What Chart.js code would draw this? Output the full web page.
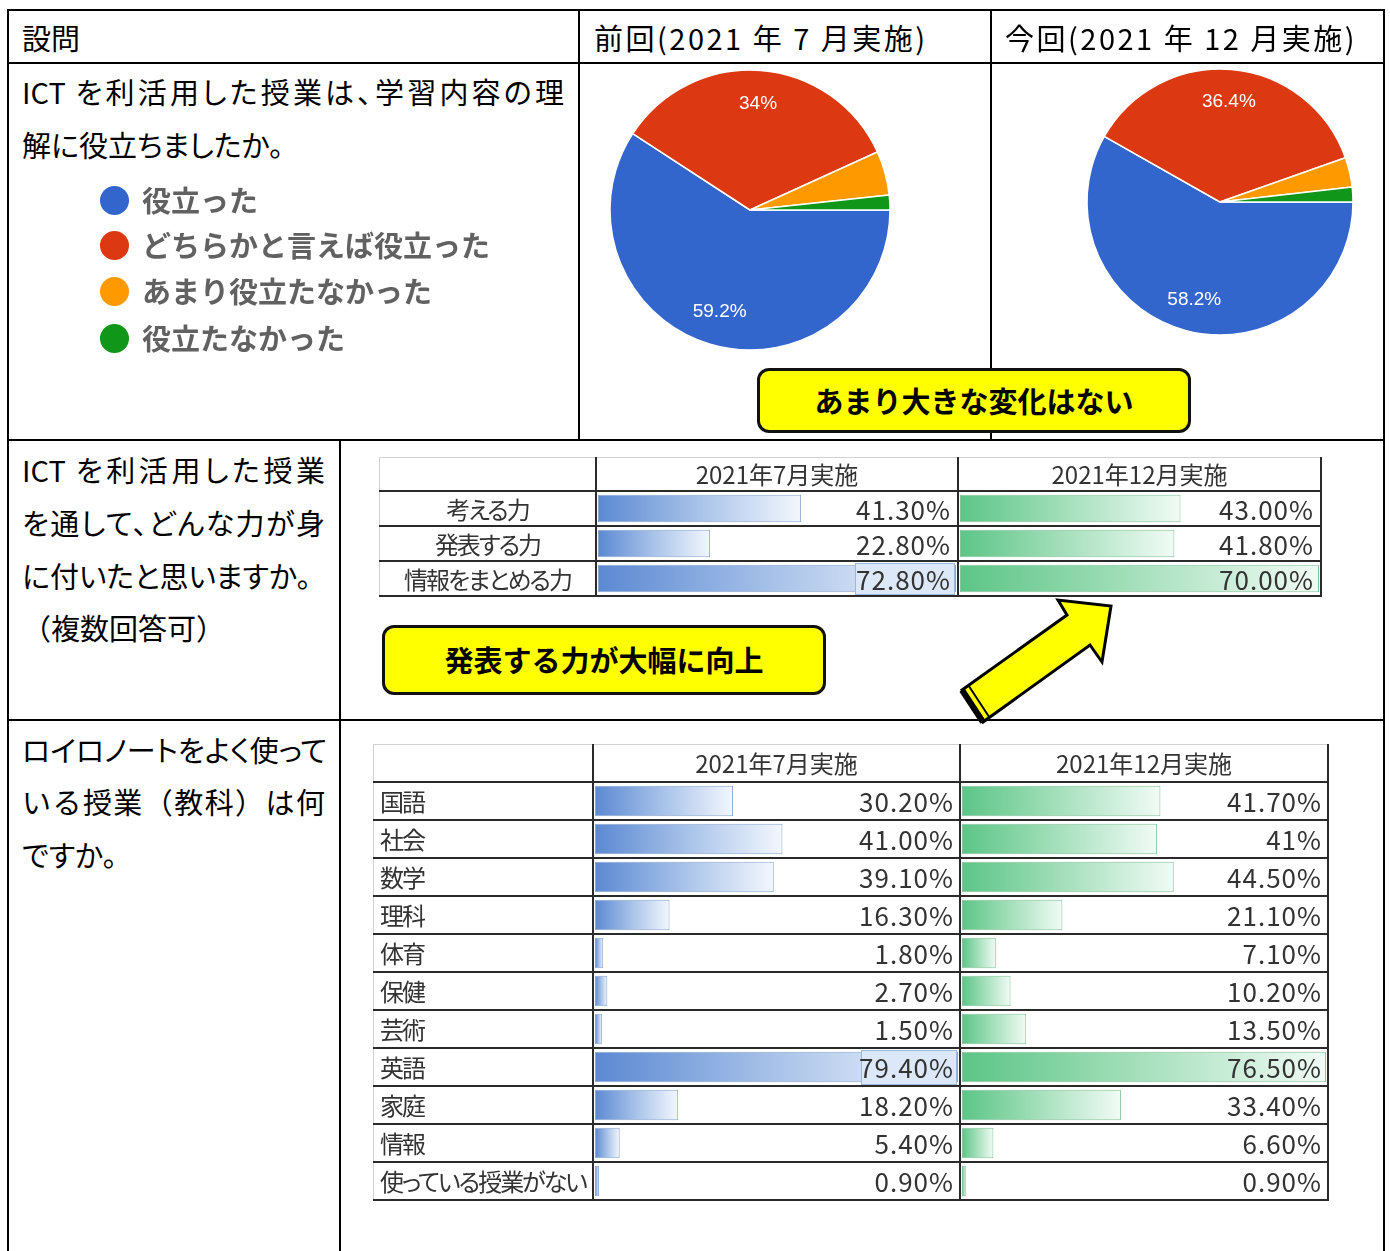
<!DOCTYPE html>
<html>
<head>
<meta charset="utf-8">
<script src="https://cdn.jsdelivr.net/npm/chart.js@4"></script>
<style>
  body { margin: 0; background: #fff; }
  #page { position: relative; width: 1390px; height: 1251px; overflow: hidden; font-family: "Noto Sans CJK JP", sans-serif; }
  #page > * { position: absolute; }
  .ln { z-index: 2; }
  .t { font-feature-settings: "palt"; font-size: 29px; line-height: 40px; white-space: nowrap; color: #000; z-index: 3; }
  .j { text-align: justify; text-align-last: justify; }
  .fw { font-feature-settings: normal; }
  .hd { letter-spacing: 2.5px; }
  .tc { font-size: 24px; color: #333; white-space: nowrap; z-index: 3; font-feature-settings: "palt"; }
  .lab { letter-spacing: -2px; }
  .val { font-size: 26px; letter-spacing: 1px; }
  .sel { background: #dce8f7; border: 1px solid #9db8de; z-index: 2; }
  .lg { font-size: 29px; line-height: 40px; color: #616161; font-weight: bold; white-space: nowrap; filter: blur(0.6px); }
  .dot { width: 29px; height: 29px; border-radius: 50%; filter: blur(0.5px); }
  .box { box-sizing: border-box; border: 3px solid #111; border-radius: 12px; background: #ffff00;
         font-size: 29px; font-weight: bold; text-align: center; z-index: 5; white-space: nowrap; }
  svg { z-index: 6; }
</style>
</head>
<body>
<div id="page"></div>
<script>
// ---- data ----
const pieLabels = ['役立った', 'どちらかと言えば役立った', 'あまり役立たなかった', '役立たなかった'];
const pieColors = ['#3366cc', '#dc3912', '#ff9900', '#109618'];
const pieJuly = [59.2, 34, 5.1, 1.7];
const pieDec = [58.2, 36.4, 3.6, 1.8];

const julyName = '2021年7月実施';
const decName = '2021年12月実施';

const skillLabels = ['考える力', '発表する力', '情報をまとめる力'];
const skillJuly = [41.3, 22.8, 72.8];
const skillDec = [43.0, 41.8, 70.0];

const subjectLabels = ['国語', '社会', '数学', '理科', '体育', '保健', '芸術', '英語', '家庭', '情報', '使っている授業がない'];
const subjectJuly = [30.2, 41.0, 39.1, 16.3, 1.8, 2.7, 1.5, 79.4, 18.2, 5.4, 0.9];
const subjectDec = [41.7, 41, 44.5, 21.1, 7.1, 10.2, 13.5, 76.5, 33.4, 6.6, 0.9];
const subjectDecText = ['41.70%', '41%', '44.50%', '21.10%', '7.10%', '10.20%', '13.50%', '76.50%', '33.40%', '6.60%', '0.90%'];

const blueStops = ['#5b89d2', '#a9c3e9', '#f3f7fd'];
const greenStops = ['#5cc586', '#a7e0bd', '#f1fbf5'];

// ---- helpers ----
const page = document.getElementById('page');
const px = v => v + 'px';
function el(tag, cls, style, text) {
  const d = document.createElement(tag);
  if (cls) d.className = cls;
  Object.assign(d.style, style);
  if (text != null) d.textContent = text;
  page.appendChild(d);
  return d;
}
function line(x, y, w, h, c) {
  return el('div', 'ln', { left: px(x), top: px(y), width: px(w), height: px(h), background: c || '#000' });
}
function text(str, x, cy, w, cls) {
  return el('div', 't' + (cls ? ' ' + cls : ''), { left: px(x), top: px(cy - 21), width: w ? px(w) : 'auto' }, str);
}
const fmt = v => v.toFixed(2) + '%';

// ---- outer table ----
line(8, 9, 1377, 2);
line(8, 62, 1377, 2);
line(8, 439, 1377, 2);
line(8, 719, 1377, 2);
line(7, 9, 2, 1242);
line(1383, 9, 2, 1242);
line(578, 9, 2, 431);
line(990, 9, 2, 431);
line(339, 439, 2, 812);

text('設問', 22, 38);
text('前回(2021 年 7 月実施)', 594, 38, 0, 'hd');
text('今回(2021 年 12 月実施)', 1005, 38, 0, 'hd');

text('ICT  を利活用した授業は、学習内容の理', 22, 92, 542, 'j');
text('解に役立ちましたか。', 22, 145);

text('ICT  を利活用した授業', 22, 470, 303, 'j');
text('を通して、どんな力が身', 22, 523, 303, 'j');
text('に付いたと思いますか。', 22, 576);
text('（複数回答可）', 22, 628, 0, 'fw');

text('ロイロノートをよく使って', 22, 750, 303, 'j');
text('いる授業（教科）は何', 22, 802, 303, 'j fw');
text('ですか。', 22, 855);

// ---- legend ----
const legendY = [200, 245, 291, 338];
pieLabels.forEach((lab, i) => {
  el('div', 'dot', { left: px(100), top: px(legendY[i] - 14.5), background: pieColors[i] });
  el('div', 'lg', { left: px(142), top: px(legendY[i] - 21) }, lab);
});

// ---- pies ----
const pieLabelPlugin = {
  id: 'pieLabels',
  afterDatasetsDraw(chart) {
    const ctx = chart.ctx;
    const meta = chart.getDatasetMeta(0);
    const data = chart.data.datasets[0].data;
    ctx.save();
    ctx.fillStyle = '#fff';
    ctx.font = '19px "Liberation Sans", Arial, sans-serif';
    ctx.textAlign = 'center';
    ctx.textBaseline = 'middle';
    meta.data.forEach((arc, i) => {
      if (data[i] < 10) return;
      const a = (arc.startAngle + arc.endAngle) / 2;
      const r = arc.outerRadius * 0.76;
      ctx.fillText(data[i] + '%', arc.x + Math.cos(a) * r, arc.y + Math.sin(a) * r);
    });
    ctx.restore();
  }
};

function pieChart(x, y, size, radius, values) {
  const cv = el('canvas', null, { left: px(x), top: px(y), zIndex: 1 });
  cv.width = size; cv.height = size;
  return new Chart(cv, {
    type: 'pie',
    data: {
      labels: pieLabels,
      datasets: [{ data: values, backgroundColor: pieColors, borderColor: '#fff', borderWidth: 1.5, hoverOffset: 0 }]
    },
    options: {
      responsive: false,
      animation: false,
      events: [],
      rotation: 90,
      radius: radius,
      layout: { padding: 0 },
      plugins: { legend: { display: false }, tooltip: { enabled: false } }
    },
    plugins: [pieLabelPlugin]
  });
}
pieChart(600, 60, 300, 140, pieJuly);
pieChart(1070, 52, 300, 133, pieDec);

// ---- data bar tables ----
function barFill(stops) {
  return ctx => {
    const chart = ctx.chart;
    const xs = chart.scales.x;
    if (!chart.chartArea || !xs) return stops[0];
    const x0 = xs.getPixelForValue(0);
    const x1 = Math.max(xs.getPixelForValue(ctx.raw), x0 + 2);
    const g = chart.ctx.createLinearGradient(x0, 0, x1, 0);
    g.addColorStop(0, stops[0]);
    g.addColorStop(0.5, stops[1]);
    g.addColorStop(1, stops[2]);
    return g;
  };
}

function barChart(cv, labels, values, stops, border, pct) {
  return new Chart(cv, {
    type: 'bar',
    data: {
      labels: labels,
      datasets: [{
        data: values,
        backgroundColor: barFill(stops),
        borderColor: border,
        borderWidth: 1,
        borderSkipped: false,
        barPercentage: pct,
        categoryPercentage: 1
      }]
    },
    options: {
      indexAxis: 'y',
      responsive: false,
      animation: false,
      events: [],
      layout: { padding: 0 },
      plugins: { legend: { display: false }, tooltip: { enabled: false } },
      scales: {
        x: { display: false, min: 0, max: Math.max(...values) },
        y: { display: false }
      }
    }
  });
}

function dataTable(t) {
  const total = t.cols[0] + t.cols[1] + t.cols[2];
  const n = t.labels.length;
  const bodyTop = t.y + t.headH;
  const bottom = bodyTop + n * t.rowH;
  const xs = [t.x, t.x + t.cols[0], t.x + t.cols[0] + t.cols[1], t.x + total];

  t.series.forEach((s, k) => {
    const cv = el('canvas', null, { left: px(xs[k + 1] + 2), top: px(bodyTop), zIndex: 1 });
    cv.width = xs[k + 2] - xs[k + 1] - 4;
    cv.height = n * t.rowH;
    barChart(cv, t.labels, s.values, s.stops, s.border, t.barPct);
  });

  line(t.x, t.y, total, 1, '#d2d2d2');
  line(t.x, t.y, 1, bottom - t.y, '#d2d2d2');
  for (let i = 0; i <= n; i++) line(t.x, bodyTop + i * t.rowH - 1, total + 1, 2, '#2a2a2a');
  xs.slice(1).forEach(x => line(x - 1, t.y, 2, bottom - t.y + 1, '#2a2a2a'));

  t.series.forEach((s, k) => {
    el('div', 'tc', { left: px(xs[k + 1]), top: px(t.y), width: px(xs[k + 2] - xs[k + 1]),
      height: px(t.headH), lineHeight: px(t.headH), textAlign: 'center' }, s.name);
  });

  t.labels.forEach((lab, i) => {
    const style = { top: px(bodyTop + i * t.rowH), height: px(t.rowH), lineHeight: px(t.rowH) };
    if (t.labelAlign === 'left') {
      Object.assign(style, { left: px(t.x + 7) });
    } else {
      Object.assign(style, { left: px(t.x), width: px(t.cols[0]), textAlign: 'center' });
    }
    el('div', 'tc lab', style, lab);
  });

  t.series.forEach((s, k) => {
    s.values.forEach((v, i) => {
      const right = 1390 - (xs[k + 2] - t.pad);
      const str = s.text ? s.text[i] : fmt(v);
      if (s.sel === i) {
        el('div', 'sel', { right: px(1390 - xs[k + 2] + 3), top: px(bodyTop + i * t.rowH + 2),
          width: px(t.selW), height: px(t.rowH - 5) });
      }
      el('div', 'tc val', { right: px(right - 1), top: px(bodyTop + i * t.rowH), height: px(t.rowH),
        lineHeight: px(t.rowH), textAlign: 'right' }, str);
    });
  });
}

dataTable({
  x: 379, y: 457, cols: [217, 362, 363], headH: 34, rowH: 35, barPct: 0.78, pad: 8, selW: 98,
  labels: skillLabels, labelAlign: 'center',
  series: [
    { name: julyName, values: skillJuly, stops: blueStops, border: '#8aa6d0', sel: 2 },
    { name: decName, values: skillDec, stops: greenStops, border: '#86c49c' }
  ]
});

dataTable({
  x: 373, y: 744, cols: [220, 367, 368], headH: 38, rowH: 38, barPct: 0.8, pad: 7, selW: 94,
  labels: subjectLabels, labelAlign: 'left',
  series: [
    { name: julyName, values: subjectJuly, stops: blueStops, border: '#8aa6d0', sel: 7 },
    { name: decName, values: subjectDec, text: subjectDecText, stops: greenStops, border: '#86c49c' }
  ]
});

// ---- callouts ----
el('div', 'box', { left: px(757), top: px(368), width: px(434), height: px(65), lineHeight: px(58) }, 'あまり大きな変化はない');
el('div', 'box', { left: px(382), top: px(625), width: px(444), height: px(70), lineHeight: px(63) }, '発表する力が大幅に向上');

// ---- arrow ----
const NS = 'http://www.w3.org/2000/svg';
const svg = document.createElementNS(NS, 'svg');
svg.setAttribute('width', 1390);
svg.setAttribute('height', 1251);
svg.style.left = '0px';
svg.style.top = '0px';
svg.innerHTML =
  '<polygon points="962,690 1067,615 1058,600 1111,606 1102,662 1090,645 983,722" ' +
  'fill="#ffff00" stroke="#000" stroke-width="3" stroke-linejoin="miter"/>' +
  '<line x1="962" y1="690" x2="983" y2="722" stroke="#000" stroke-width="6"/>' +
  '<line x1="968.5" y1="685.5" x2="989.5" y2="717.5" stroke="#000" stroke-width="2"/>';
page.appendChild(svg);
</script>
</body>
</html>
